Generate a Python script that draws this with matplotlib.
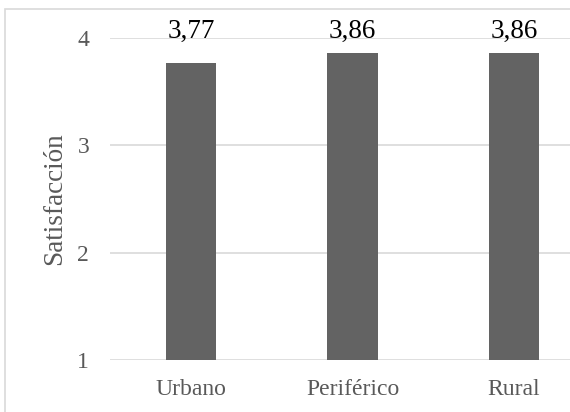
import matplotlib.pyplot as plt

categories = ["Urbano", "Periférico", "Rural"]
values = [3.77, 3.86, 3.86]
labels = ["3,77", "3,86", "3,86"]
yticks = [1, 2, 3, 4]

plt.rcParams['font.family'] = ['Liberation Serif', 'DejaVu Serif']

fig = plt.figure(figsize=(5.70, 4.12), dpi=100)
# outer chart border (cropped on right and bottom like the original)
fig.patches.append(plt.Rectangle((5/570, -0.05), 1.0, 1 - 9/412 + 0.05,
                                 transform=fig.transFigure, fill=False,
                                 edgecolor="#d9d9d9", linewidth=1.2))

# plot area runs past the right edge of the picture
ax = fig.add_axes([110/570, 1 - 360/412, 485/570, 322/412])
x = range(len(categories))
ax.bar(x, values, width=0.31, bottom=0, color="#636363", zorder=3)
ax.set_ylim(1, 4)
ax.set_xlim(-0.5, 2.5)
ax.set_yticks(yticks)
ax.set_xticks(list(x))
ax.set_xticklabels(categories)
ax.grid(axis="y", color="#d9d9d9", linewidth=1.2, zorder=0)
for s in ax.spines.values():
    s.set_visible(False)
ax.tick_params(length=0, labelsize=17, labelcolor="#595959")
ax.tick_params(axis="y", pad=15)
ax.tick_params(axis="x", pad=14)
ax.set_ylabel("Satisfacción", fontsize=19.5, color="#595959", labelpad=7)

for i, v in enumerate(values):
    ax.text(i, 4.0, labels[i], ha="center", va="baseline", fontsize=19.5, color="black")

fig.savefig("out.png", dpi=100)
